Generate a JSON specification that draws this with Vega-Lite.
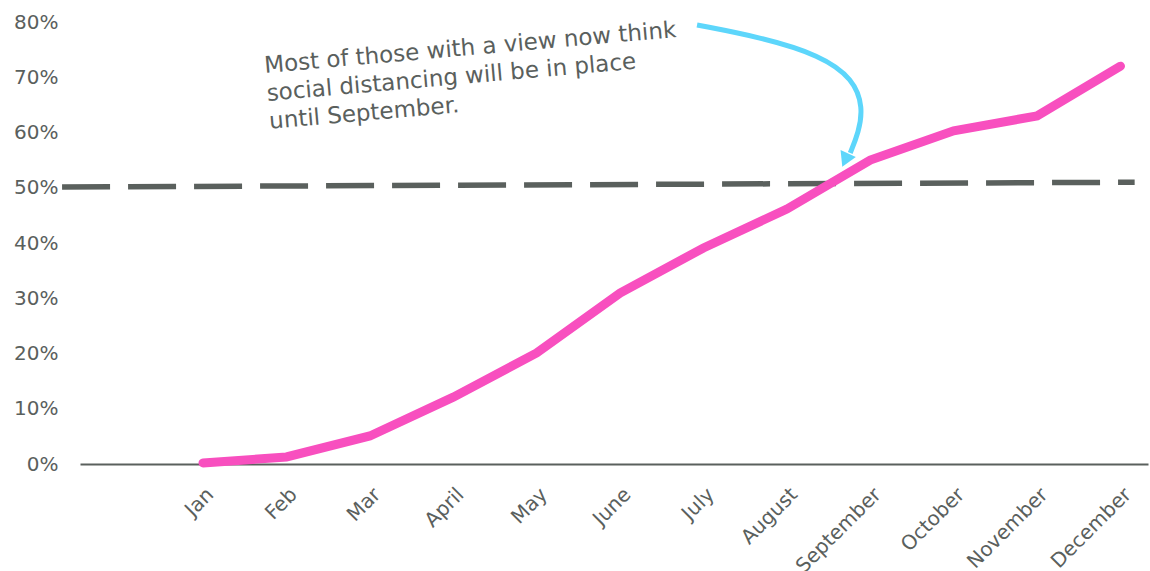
{
  "$schema": "https://vega.github.io/schema/vega-lite/v6.json",
  "width": 1068,
  "height": 442,
  "autosize": {"type": "none"},
  "padding": {"left": 80, "top": 22, "right": 2, "bottom": 107},
  "background": "white",
  "config": {"view": {"stroke": null}, "font": "DejaVu Sans"},
  "datasets": {
    "series": [
      {"month": "Jan", "idx": 0, "value": 0.002},
      {"month": "Feb", "idx": 1, "value": 0.0127},
      {"month": "Mar", "idx": 2, "value": 0.0507},
      {"month": "April", "idx": 3, "value": 0.121},
      {"month": "May", "idx": 4, "value": 0.201},
      {"month": "June", "idx": 5, "value": 0.3095},
      {"month": "July", "idx": 6, "value": 0.391},
      {"month": "August", "idx": 7, "value": 0.4615},
      {"month": "September", "idx": 8, "value": 0.55},
      {"month": "October", "idx": 9, "value": 0.603},
      {"month": "November", "idx": 10, "value": 0.63},
      {"month": "December", "idx": 11, "value": 0.72}
    ],
    "ref": [
      {"idx": -1.69, "value": 0.5014},
      {"idx": 11.17, "value": 0.51}
    ],
    "arrow": [
      {"order": 1, "idx": 5.923, "value": 0.7946},
      {"order": 2, "idx": 6.70, "value": 0.772},
      {"order": 3, "idx": 7.40, "value": 0.740},
      {"order": 4, "idx": 7.80, "value": 0.697},
      {"order": 5, "idx": 7.914, "value": 0.645},
      {"order": 6, "idx": 7.860, "value": 0.600},
      {"order": 7, "idx": 7.760, "value": 0.563}
    ],
    "head": [{"idx": 7.70, "value": 0.550}],
    "note": [
      {"idx": 0.743, "value": 0.7077, "label": "Most of those with a view now think\nsocial distancing will be in place\nuntil September."}
    ]
  },
  "encoding": {
    "x": {
      "field": "idx",
      "type": "quantitative",
      "scale": {"domain": [-1.475, 11.33], "nice": false, "zero": false},
      "axis": {
        "values": [0, 1, 2, 3, 4, 5, 6, 7, 8, 9, 10, 11],
        "labelExpr": "['Jan','Feb','Mar','April','May','June','July','August','September','October','November','December'][datum.value]",
        "labelAngle": -45,
        "ticks": false,
        "tickSize": 0,
        "grid": false,
        "domainColor": "#5a605d",
        "domainWidth": 2,
        "labelColor": "#5a605d",
        "labelFontSize": 20,
        "labelFont": "DejaVu Sans",
        "labelPadding": 20,
        "labelOverlap": false,
        "labelFlush": false,
        "title": null
      }
    },
    "y": {
      "field": "value",
      "type": "quantitative",
      "scale": {"domain": [0, 0.8], "nice": false},
      "axis": {
        "values": [0, 0.1, 0.2, 0.3, 0.4, 0.5, 0.6, 0.7, 0.8],
        "format": ".0%",
        "domain": false,
        "ticks": false,
        "tickSize": 0,
        "grid": false,
        "labelPadding": 22,
        "labelFontSize": 20,
        "labelFont": "DejaVu Sans",
        "labelColor": "#5a605d",
        "title": null
      }
    }
  },
  "layer": [
    {
      "data": {"name": "ref"},
      "mark": {"type": "line", "color": "#5a605d", "strokeWidth": 5.5, "strokeDash": [48, 18]}
    },
    {
      "data": {"name": "series"},
      "mark": {"type": "line", "color": "#f84fbf", "strokeWidth": 9, "strokeCap": "round"}
    },
    {
      "data": {"name": "arrow"},
      "mark": {"type": "line", "color": "#5dd6fb", "strokeWidth": 5, "interpolate": "basis"},
      "encoding": {"order": {"field": "order", "type": "quantitative"}}
    },
    {
      "data": {"name": "head"},
      "mark": {"type": "point", "shape": "triangle-down", "filled": true, "color": "#5dd6fb", "opacity": 1, "size": 280, "angle": 24}
    },
    {
      "data": {"name": "note"},
      "mark": {"type": "text", "align": "left", "baseline": "alphabetic", "angle": 355, "fontSize": 23, "lineHeight": 28, "lineBreak": "\n", "color": "#5a605d", "font": "DejaVu Sans"},
      "encoding": {"text": {"field": "label", "type": "nominal"}}
    }
  ]
}
